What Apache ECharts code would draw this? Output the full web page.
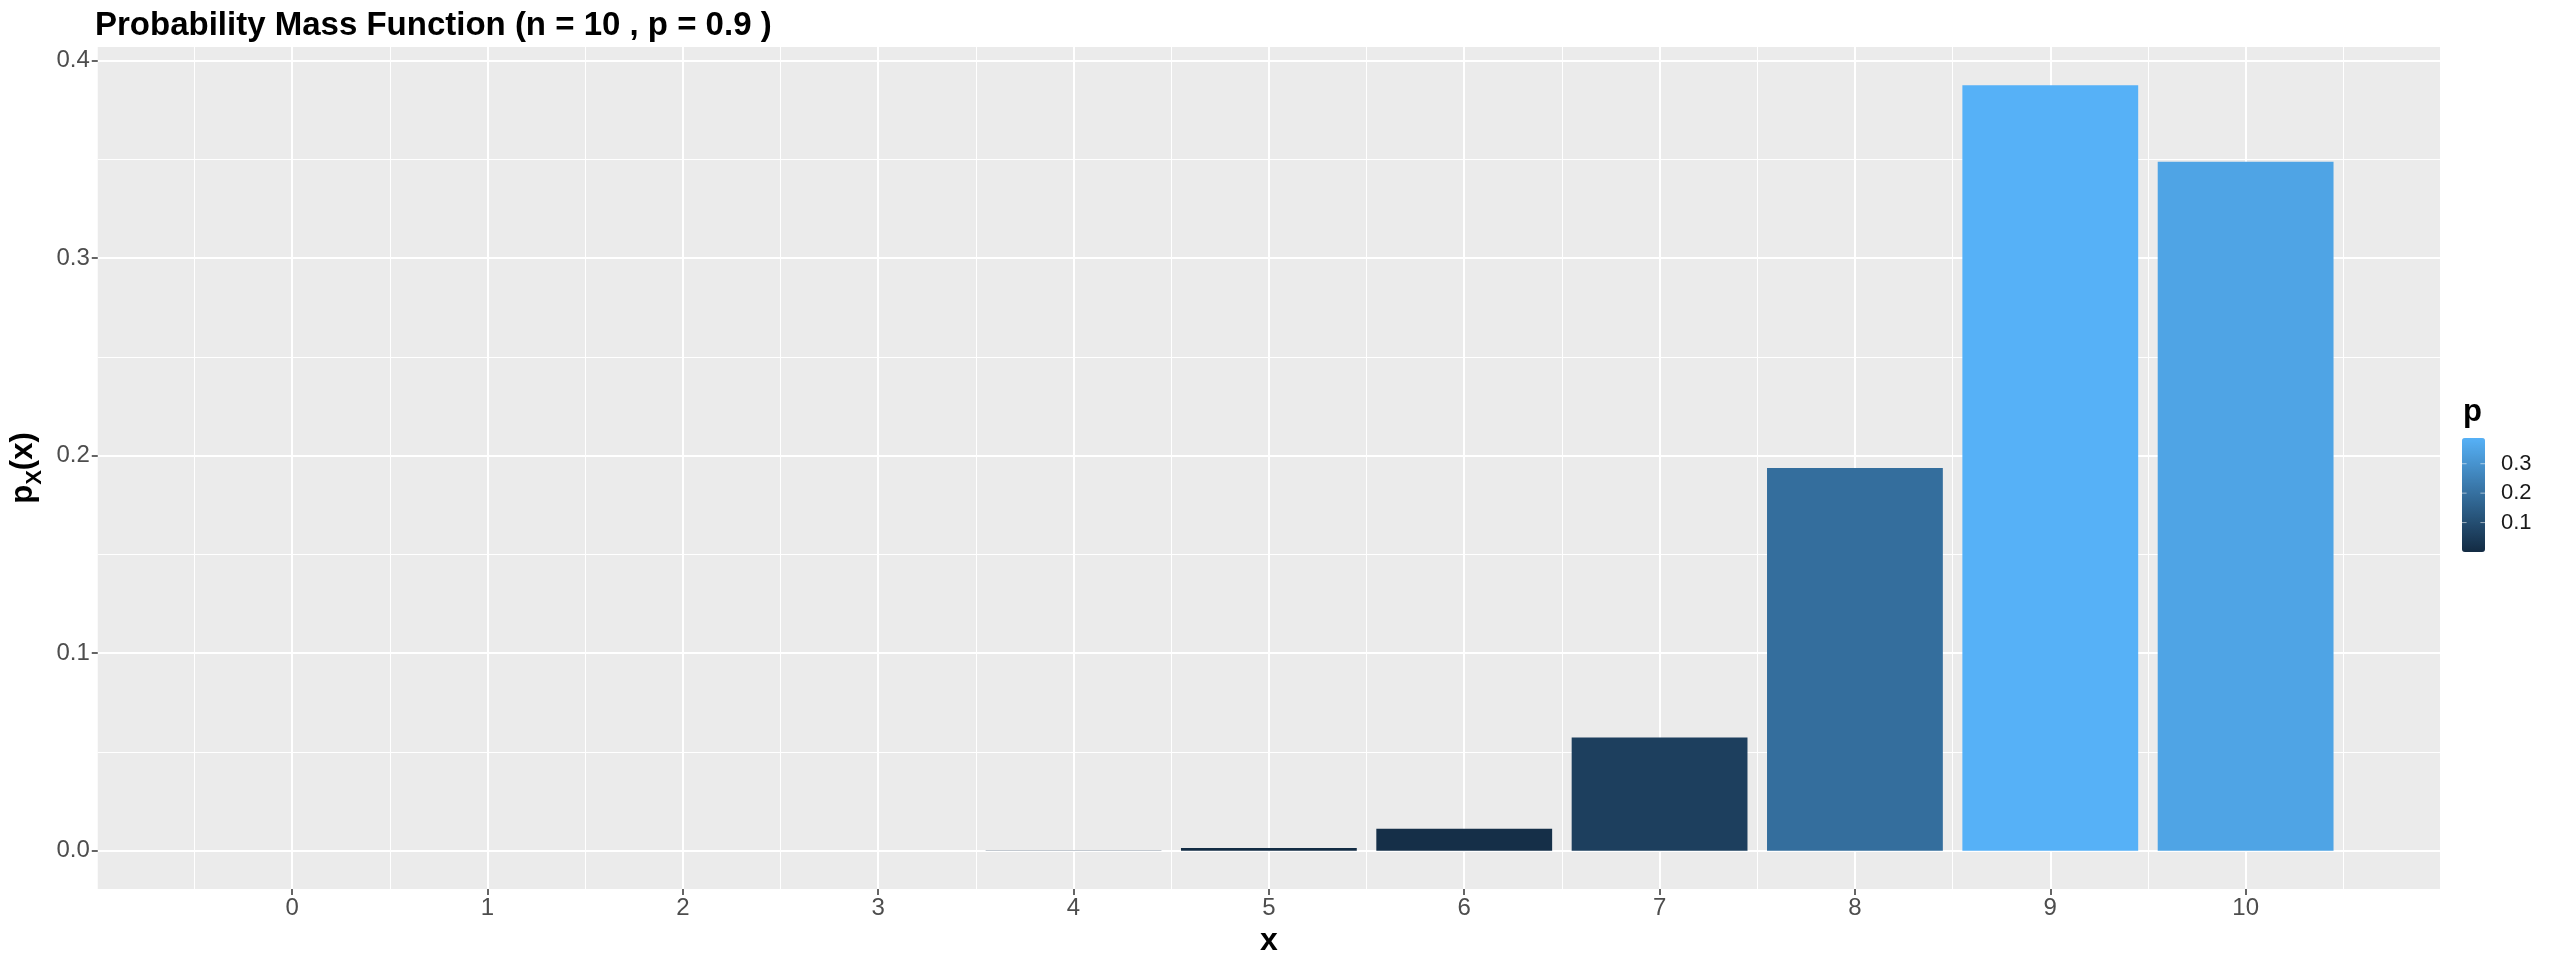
<!DOCTYPE html>
<html><head><meta charset="utf-8">
<script src="https://cdn.jsdelivr.net/npm/echarts@6/dist/echarts.min.js"></script>
<style>html,body{margin:0;padding:0;background:#fff}#chart{width:2549px;height:962px}</style>
</head><body><div id="chart"></div>
<script>
// ---- data ----
const xValues = [0, 1, 2, 3, 4, 5, 6, 7, 8, 9, 10];
const probValues = [1e-10, 9e-9, 3.6e-7, 8.7e-6, 0.000138, 0.00149, 0.0112, 0.0574, 0.1937, 0.3874, 0.3487];
const xMajorTicks = [0, 1, 2, 3, 4, 5, 6, 7, 8, 9, 10];
const xMinorTicks = [-0.5, 0.5, 1.5, 2.5, 3.5, 4.5, 5.5, 6.5, 7.5, 8.5, 9.5, 10.5];
const yMajorTicks = [0, 0.1, 0.2, 0.3, 0.4];
const yMinorTicks = [0.05, 0.15, 0.25, 0.35];
const legendTicks = [0.1, 0.2, 0.3];
const titleText = 'Probability Mass Function (n = 10 , p = 0.9 )';
const legendTitle = 'p';

// ---- layout ----
const FONT = '"Liberation Sans", Arial, Helvetica, sans-serif';
const gridL = 93, gridT = 47, gridR = 109, gridB = 67;
const barHalf = 0.45;
const xLo = Math.min(...xValues) - barHalf, xHi = Math.max(...xValues) + barHalf;
const xPad = 0.05 * (xHi - xLo);
const yLo = 0, yHi = Math.max(...probValues);
const yPad = 0.05 * (yHi - yLo);
const pMin = Math.min(...probValues), pMax = Math.max(...probValues);
const cbLeft = 2462, cbTop = 438, cbW = 23, cbH = 114;

const chart = echarts.init(document.getElementById('chart'), null, {renderer: 'canvas'});

const graphics = [];
graphics.push({type: 'text', left: cbLeft + 1, top: 397,
  style: {text: legendTitle, font: 'bold 31px ' + FONT, fill: '#000'}});
legendTicks.forEach(v => {
  const y = cbTop + cbH * (1 - (v - pMin) / (pMax - pMin));
  graphics.push({type: 'text', x: cbLeft + cbW + 16, y: y,
    style: {text: v.toFixed(1), font: '22px ' + FONT, fill: '#1A1A1A', verticalAlign: 'middle', align: 'left'}, z: 10});
  graphics.push({type: 'line', shape: {x1: cbLeft, y1: y, x2: cbLeft + 4.6, y2: y},
    style: {stroke: 'rgba(255,255,255,0.55)', lineWidth: 1}, z: 10});
  graphics.push({type: 'line', shape: {x1: cbLeft + cbW - 4.6, y1: y, x2: cbLeft + cbW, y2: y},
    style: {stroke: 'rgba(255,255,255,0.55)', lineWidth: 1}, z: 10});
});

const option = {
  backgroundColor: '#fff',
  animation: false,
  title: {text: titleText, left: 90, top: 4,
    textStyle: {fontFamily: FONT, fontWeight: 'bold', fontSize: 33, color: '#000'}},
  grid: {left: gridL, top: gridT, right: gridR, bottom: gridB, show: true,
    backgroundColor: '#EBEBEB', borderWidth: 0},
  xAxis: [{
    type: 'value', min: xLo - xPad, max: xHi + xPad, position: 'bottom',
    name: 'x', nameLocation: 'middle', nameGap: 27,
    nameTextStyle: {fontFamily: FONT, fontWeight: 'bold', fontSize: 32, color: '#000'},
    axisLine: {show: false, onZero: false},
    axisTick: {show: true, length: 6, customValues: xMajorTicks, lineStyle: {color: '#333', width: 1.5}},
    axisLabel: {customValues: xMajorTicks, color: '#4D4D4D', fontSize: 24, fontFamily: FONT, margin: 7},
    splitLine: {show: true, lineStyle: {color: '#fff', width: 2}}
  }, {
    type: 'value', min: xLo - xPad, max: xHi + xPad, position: 'bottom',
    axisLine: {show: false, onZero: false},
    axisTick: {show: false, customValues: xMinorTicks},
    axisLabel: {show: false, customValues: xMinorTicks},
    splitLine: {show: true, lineStyle: {color: '#fff', width: 1}}
  }],
  yAxis: [{
    type: 'value', min: yLo - yPad, max: yHi + yPad, position: 'left',
    name: '{m|p}{s|X}{m|(x)}', nameLocation: 'middle', nameGap: 50, nameRotate: 90,
    nameTextStyle: {rich: {
      m: {fontFamily: FONT, fontWeight: 'bold', fontSize: 31, color: '#000', lineHeight: 44, verticalAlign: 'middle'},
      s: {fontFamily: FONT, fontWeight: 'bold', fontSize: 22, color: '#000', lineHeight: 44, verticalAlign: 'bottom'}
    }},
    axisLine: {show: false, onZero: false},
    axisTick: {show: true, length: 6, customValues: yMajorTicks, lineStyle: {color: '#333', width: 1.5}},
    axisLabel: {customValues: yMajorTicks, formatter: v => v.toFixed(1), color: '#4D4D4D', fontSize: 24, fontFamily: FONT, margin: 8},
    splitLine: {show: true, lineStyle: {color: '#fff', width: 2}}
  }, {
    type: 'value', min: yLo - yPad, max: yHi + yPad, position: 'left',
    axisLine: {show: false, onZero: false},
    axisTick: {show: false, customValues: yMinorTicks},
    axisLabel: {show: false, customValues: yMinorTicks},
    splitLine: {show: true, lineStyle: {color: '#fff', width: 1}}
  }],
  visualMap: {
    type: 'continuous', seriesIndex: 0, dimension: 1,
    min: pMin, max: pMax, calculable: false, show: true,
    orient: 'vertical', left: cbLeft, top: cbTop, padding: 0,
    itemWidth: cbW, itemHeight: cbH,
    inRange: {color: ['#132B43', '#56B1F7']}
  },
  series: [{
    type: 'bar', xAxisIndex: 0, yAxisIndex: 0, barWidth: '90%',
    data: xValues.map((x, i) => [x, probValues[i]])
  }],
  graphic: graphics
};
chart.setOption(option);
</script></body></html>
